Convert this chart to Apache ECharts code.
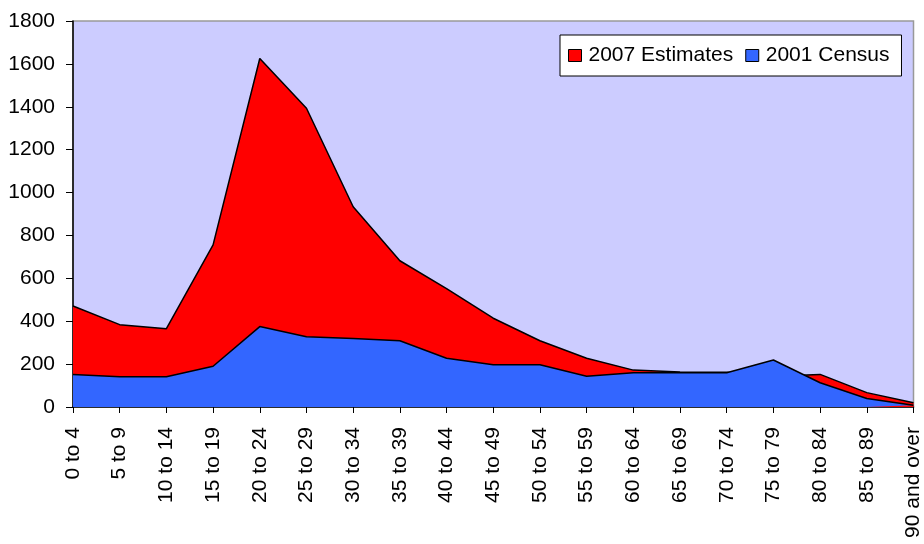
<!DOCTYPE html>
<html>
<head>
<meta charset="utf-8">
<script src="https://cdn.jsdelivr.net/npm/echarts@6/dist/echarts.min.js"></script>
<style>
  html, body { margin: 0; padding: 0; background: #fff; }
  #chart { width: 924px; height: 544px; }
</style>
</head>
<body>
<div id="chart"></div>
<script>
// Age bands
const ageGroups = ['0 to 4', '5 to 9', '10 to 14', '15 to 19', '20 to 24', '25 to 29', '30 to 34',
  '35 to 39', '40 to 44', '45 to 49', '50 to 54', '55 to 59', '60 to 64', '65 to 69', '70 to 74',
  '75 to 79', '80 to 84', '85 to 89', '90 and over'];

// Population per age band
const estimates2007 = [471, 384, 365, 756, 1625, 1393, 934, 682, 552, 414, 309, 227, 172, 163, 162, 143, 152, 67, 20];
const census2001 = [151, 141, 141, 190, 375, 328, 320, 309, 227, 197, 197, 143, 160, 160, 160, 219, 113, 40, 8];

const yTicks = { min: 0, max: 1800, interval: 200 };

const font = 'Liberation Sans, Arial, sans-serif';

const chart = echarts.init(document.getElementById('chart'), null, { renderer: 'canvas' });

function areaSeries(name, data, color, z) {
  return {
    name: name,
    type: 'line',
    data: data,
    z: z,
    symbol: 'none',
    smooth: false,
    lineStyle: { color: '#000', width: 1.5 },
    itemStyle: { color: color, borderColor: '#000', borderWidth: 1.5 },
    areaStyle: { color: color, opacity: 1 },
    emphasis: { disabled: true },
    animation: false
  };
}

chart.setOption({
  animation: false,
  backgroundColor: '#fff',
  grid: {
    left: 73, right: 6, top: 21, bottom: 137,
    show: true,
    backgroundColor: '#CCCCFF',
    borderColor: '#999',
    borderWidth: 1.5
  },
  legend: {
    left: 560, top: 35,
    orient: 'horizontal',
    backgroundColor: '#fff',
    borderColor: '#000',
    borderWidth: 1,
    padding: [10, 12, 10, 8],
    itemGap: 12,
    itemWidth: 13,
    itemHeight: 12,
    icon: 'rect',
    textStyle: { fontFamily: font, fontSize: 21, color: '#000', padding: [0, 0, 0, 2] },
    data: [
      { name: '2007 Estimates', itemStyle: { color: '#FF0000', borderColor: '#000', borderWidth: 1 } },
      { name: '2001 Census', itemStyle: { color: '#3366FF', borderColor: '#000', borderWidth: 1 } }
    ],
    selectedMode: false
  },
  xAxis: {
    type: 'category',
    data: ageGroups,
    boundaryGap: false,
    axisLine: { show: true, lineStyle: { color: '#000', width: 1.5 } },
    axisTick: { show: true, alignWithLabel: true, length: 6, lineStyle: { color: '#000' } },
    axisLabel: {
      interval: 0,
      rotate: 90,
      margin: 20,
      fontFamily: font,
      fontSize: 21,
      color: '#000'
    },
    splitLine: { show: false }
  },
  yAxis: {
    type: 'value',
    min: yTicks.min,
    max: yTicks.max,
    interval: yTicks.interval,
    axisLine: { show: true, lineStyle: { color: '#000', width: 1.5 } },
    axisTick: { show: true, length: 7, lineStyle: { color: '#000' } },
    axisLabel: {
      margin: 18,
      fontFamily: font,
      fontSize: 21,
      color: '#000',
      formatter: function (v) { return String(v); }
    },
    splitLine: { show: false }
  },
  series: [
    areaSeries('2007 Estimates', estimates2007, '#FF0000', 2),
    areaSeries('2001 Census', census2001, '#3366FF', 3)
  ]
});
</script>
</body>
</html>
